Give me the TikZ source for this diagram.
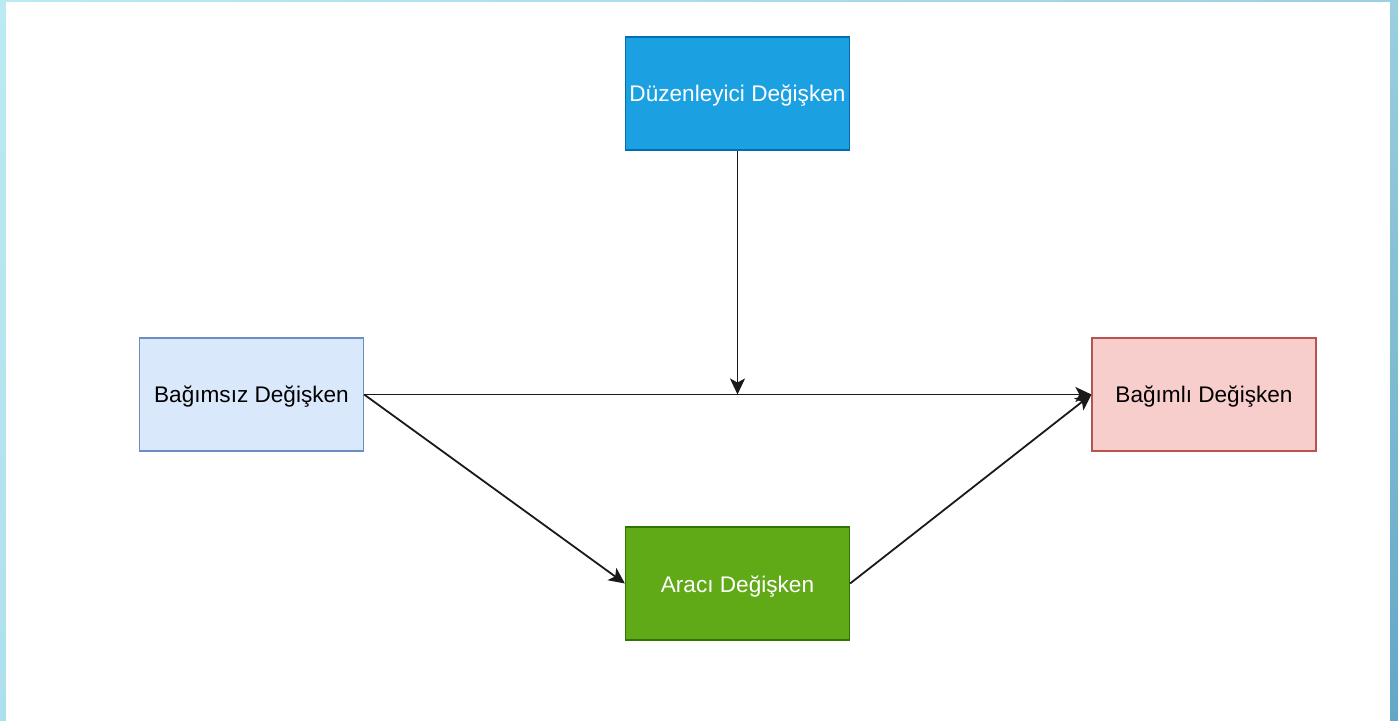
\documentclass[tikz,border=0pt]{standalone}
\usepackage{fontspec}
\setmainfont{Liberation Sans}
\usetikzlibrary{arrows.meta}
\definecolor{Duz}{HTML}{1BA1E2}
\definecolor{DuzB}{HTML}{006EAF}
\definecolor{Bgs}{HTML}{DAE8FC}
\definecolor{BgsB}{HTML}{6C8EBF}
\definecolor{Bgl}{HTML}{F8CECC}
\definecolor{BglB}{HTML}{B85450}
\definecolor{Arc}{HTML}{60A917}
\definecolor{ArcB}{HTML}{2D7600}
\definecolor{Line}{HTML}{1A1A1A}
\definecolor{EdgeL}{HTML}{BAEBF3}
\definecolor{EdgeLb}{HTML}{AEDFEC}
\definecolor{EdgeR}{HTML}{9AD0E0}
\definecolor{EdgeRb}{HTML}{64A6C6}
\tikzset{
  var/.style={shape=rectangle, line width=0.6pt, minimum width=112pt, minimum height=56.5pt, inner sep=0pt, text height=8.5pt, text depth=0pt, font=\fontsize{11.3}{13}\selectfont},
  link/.style={draw=Line, line width=0.9pt, -{Stealth[length=8pt, width=7.5pt, inset=2pt]}}
}
\begin{document}
\begin{tikzpicture}[x=0.5pt, y=-0.5pt]
    \useasboundingbox (0,0) rectangle (1398,721);
    \fill[top color=EdgeL, bottom color=EdgeLb] (0,0) rectangle (6,721);
    \fill[top color=EdgeR, bottom color=EdgeRb] (1390,0) rectangle (1398,721);
    \fill[left color=EdgeL, right color=EdgeR] (6,0) rectangle (1390,2);
    \fill[white] (6,2) rectangle (1390,721);

    \node at (737.5, 93.5) (Duz) [var, fill=Duz, draw=DuzB, text=white] {Düzenleyici Değişken};
    \node at (251.5, 394.5) (Bgs) [var, fill=Bgs, draw=BgsB, text=black] {Bağımsız Değişken};
    \node at (1204, 394.5) (Bgl) [var, fill=Bgl, draw=BglB, text=black] {Bağımlı Değişken};
    \node at (737.5, 583.5) (Arc) [var, fill=Arc, draw=ArcB, text=white] {Aracı Değişken};
    \coordinate (mod) at (Duz.south |- Bgs.east);

    \draw[link] (Duz.south) -- (mod);
    \draw[link] (Bgs.east) -- (Bgl.west);
    \draw[link] (Bgs.east) -- (Arc.west);
    \draw[link] (Arc.east) -- (Bgl.west);
\end{tikzpicture}
\end{document}
